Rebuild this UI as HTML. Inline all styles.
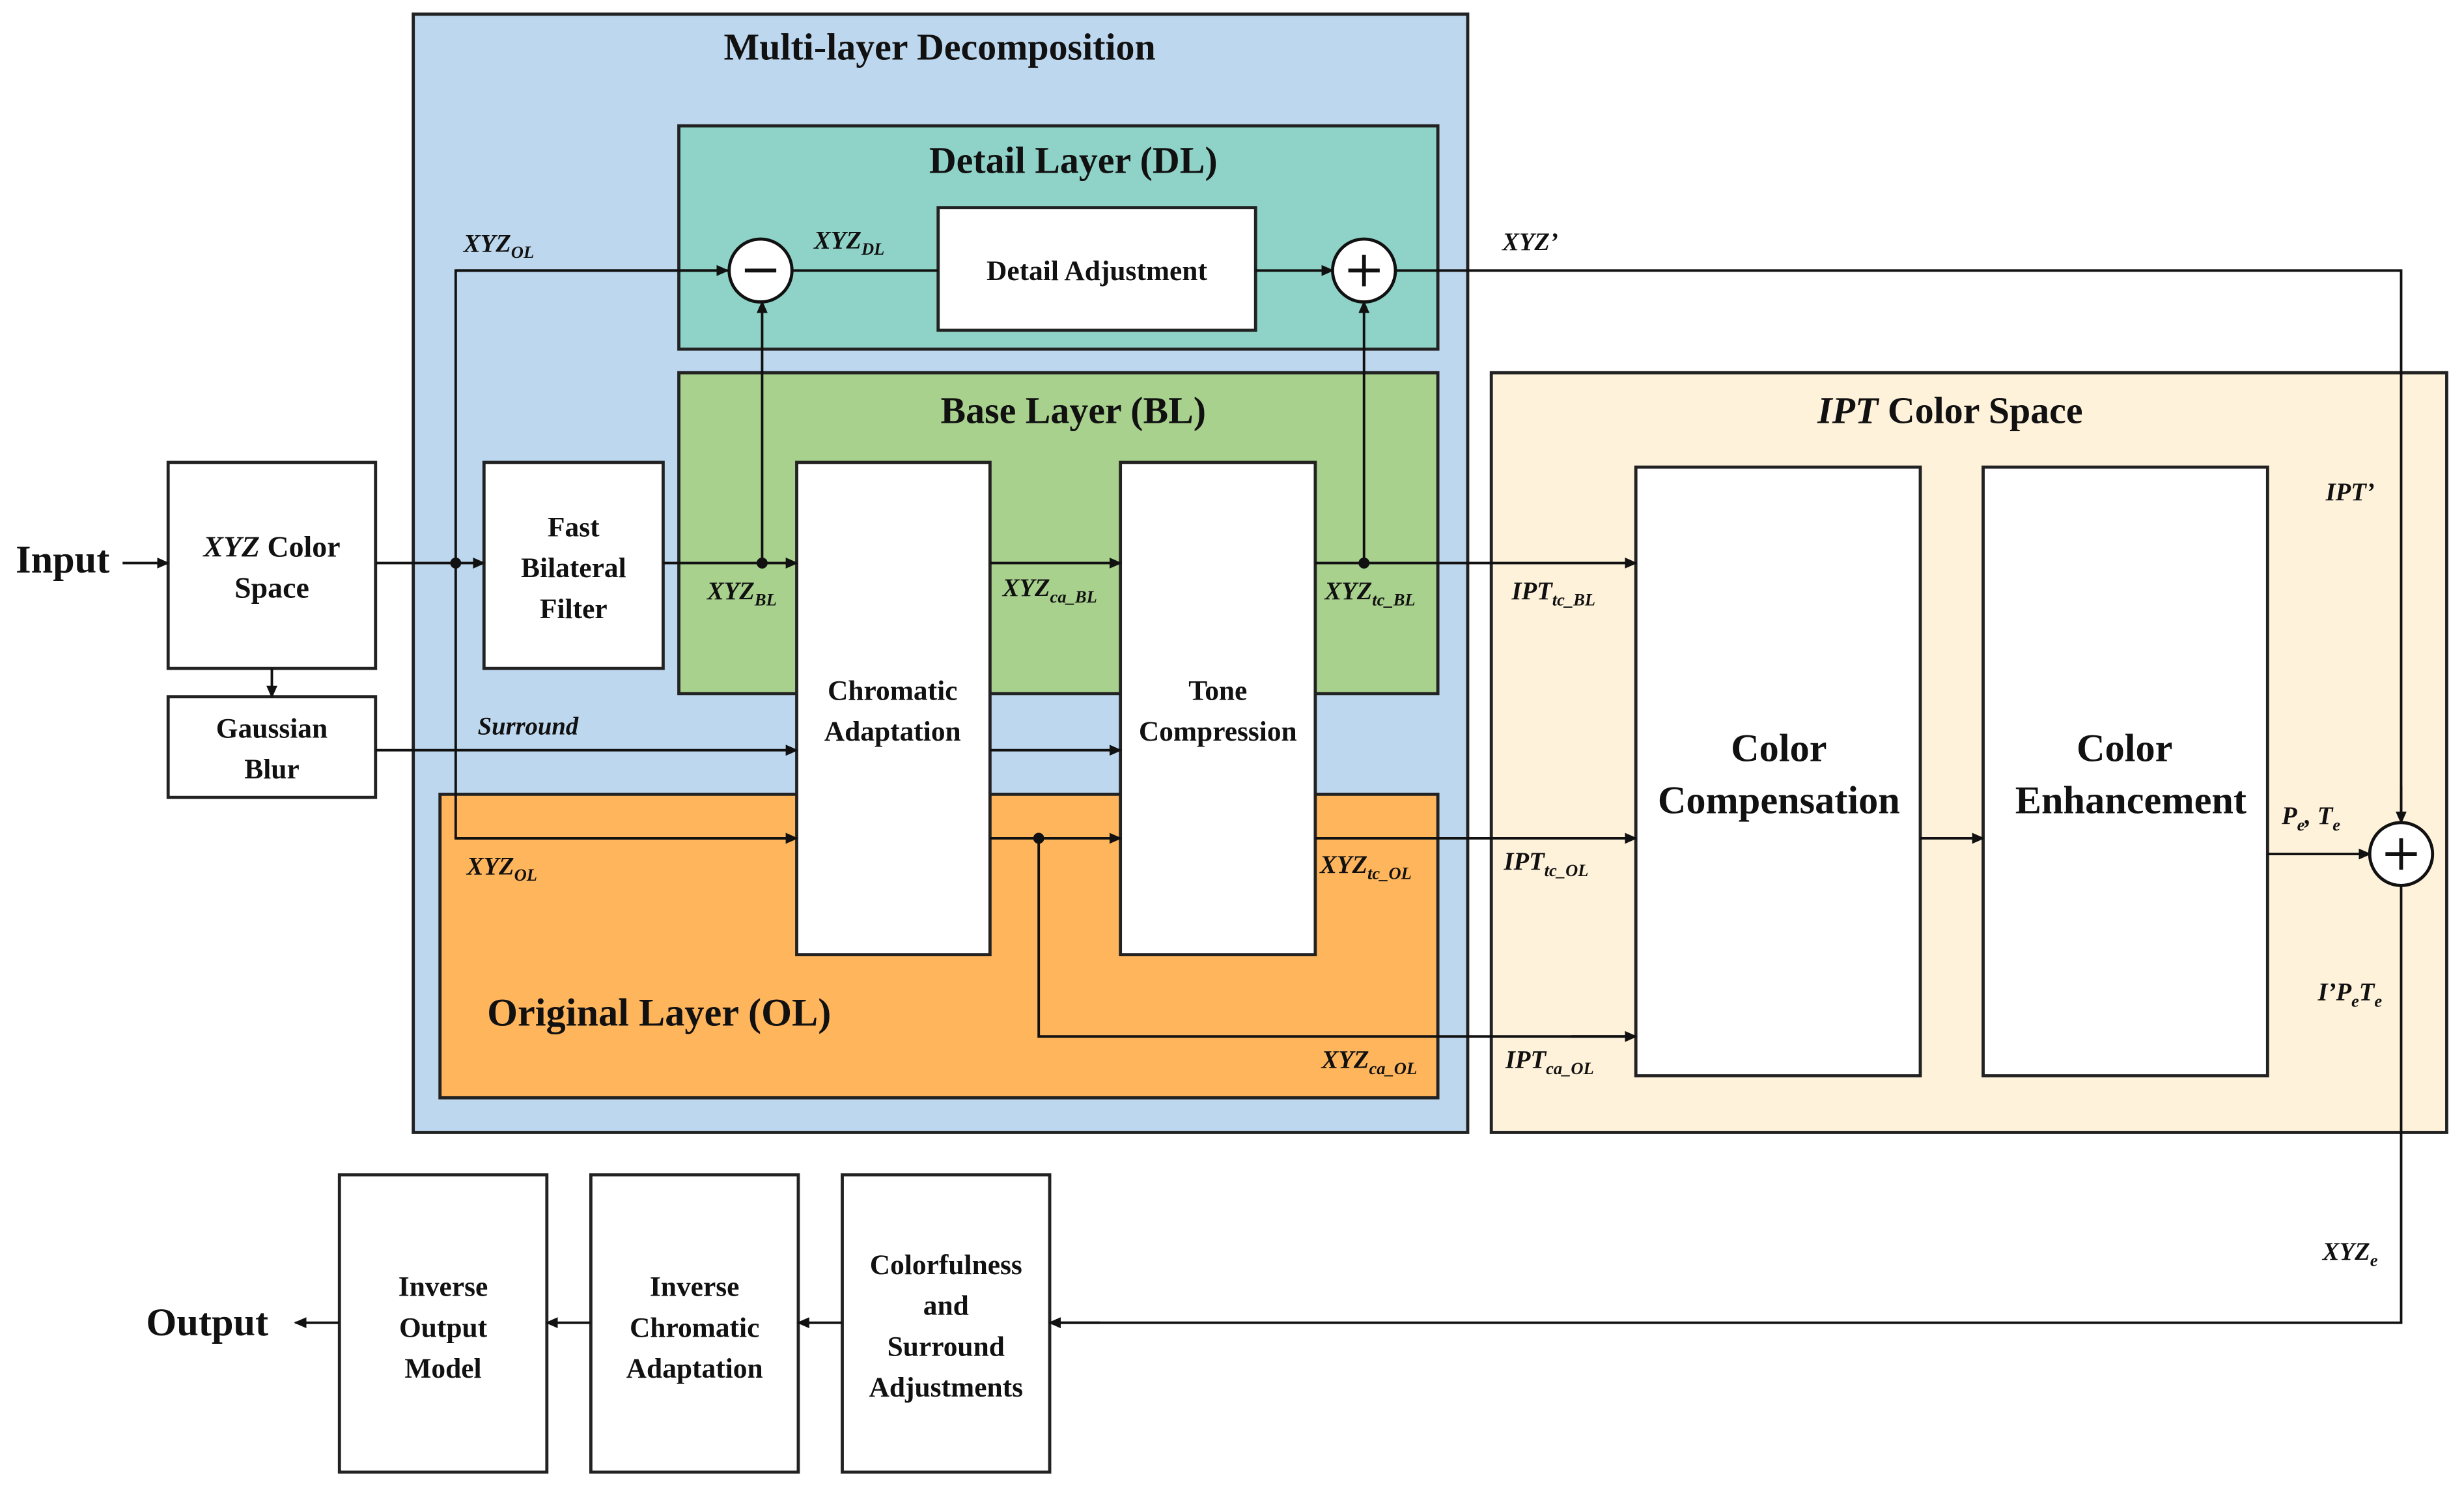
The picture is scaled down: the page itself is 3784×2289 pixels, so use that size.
<!DOCTYPE html>
<html><head><meta charset="utf-8"><style>
html,body{margin:0;padding:0;background:#fff;}
svg{display:block;}
text{font-family:"Liberation Serif",serif;font-weight:bold;fill:#111;}
.it{font-style:italic;}
</style></head><body>
<svg width="3784" height="2289" viewBox="0 0 1568 948" preserveAspectRatio="none" xmlns="http://www.w3.org/2000/svg">
<defs>
<marker id="a" markerWidth="8" markerHeight="8" refX="7" refY="4" orient="auto" markerUnits="userSpaceOnUse"><path d="M0,0.5 L8,4 L0,7.5 z" fill="#111"/></marker>
</defs>
<g stroke="#222" stroke-width="2">
<rect x="263" y="9" width="671" height="711" fill="#BDD7EE"/>
<rect x="432" y="80" width="483" height="142" fill="#8FD3C8"/>
<rect x="432" y="237" width="483" height="204" fill="#A9D18E"/>
<rect x="280" y="505" width="635" height="193" fill="#FFB55C"/>
<rect x="949" y="237" width="608" height="483" fill="#FEF2DA"/>
<rect x="597" y="132" width="202" height="78" fill="#fff"/>
<rect x="107" y="294" width="132" height="131" fill="#fff"/>
<rect x="107" y="443" width="132" height="64" fill="#fff"/>
<rect x="308" y="294" width="114" height="131" fill="#fff"/>
<rect x="507" y="294" width="123" height="313" fill="#fff"/>
<rect x="713" y="294" width="124" height="313" fill="#fff"/>
<rect x="1041" y="297" width="181" height="387" fill="#fff"/>
<rect x="1262" y="297" width="181" height="387" fill="#fff"/>
<rect x="216" y="747" width="132" height="189" fill="#fff"/>
<rect x="376" y="747" width="132" height="189" fill="#fff"/>
<rect x="536" y="747" width="132" height="189" fill="#fff"/>
</g>
<g stroke="#111" stroke-width="1.6" fill="none">
<line x1="78" y1="358" x2="107" y2="358" marker-end="url(#a)"/>
<line x1="239" y1="358" x2="308" y2="358" marker-end="url(#a)"/>
<line x1="173" y1="425" x2="173" y2="443" marker-end="url(#a)"/>
<polyline points="463,172 290,172 290,533 507,533" />
<line x1="290" y1="172" x2="463" y2="172" marker-end="url(#a)"/>
<line x1="290" y1="533" x2="507" y2="533" marker-end="url(#a)"/>
<line x1="422" y1="358" x2="507" y2="358" marker-end="url(#a)"/>
<line x1="485" y1="358" x2="485" y2="192" marker-end="url(#a)"/>
<line x1="504" y1="172" x2="597" y2="172"/>
<line x1="799" y1="172" x2="848" y2="172" marker-end="url(#a)"/>
<polyline points="888,172 1528,172 1528,523"/>
<line x1="1528" y1="500" x2="1528" y2="523" marker-end="url(#a)"/>
<line x1="630" y1="358" x2="713" y2="358" marker-end="url(#a)"/>
<line x1="837" y1="358" x2="1041" y2="358" marker-end="url(#a)"/>
<line x1="868" y1="358" x2="868" y2="192" marker-end="url(#a)"/>
<line x1="239" y1="477" x2="507" y2="477" marker-end="url(#a)"/>
<line x1="630" y1="477" x2="713" y2="477" marker-end="url(#a)"/>
<line x1="630" y1="533" x2="713" y2="533" marker-end="url(#a)"/>
<polyline points="661,533 661,659 1041,659"/>
<line x1="1000" y1="659" x2="1041" y2="659" marker-end="url(#a)"/>
<line x1="837" y1="533" x2="1041" y2="533" marker-end="url(#a)"/>
<line x1="1222" y1="533" x2="1262" y2="533" marker-end="url(#a)"/>
<line x1="1443" y1="543" x2="1508" y2="543" marker-end="url(#a)"/>
<polyline points="1528,563 1528,841 668,841"/>
<line x1="700" y1="841" x2="668" y2="841" marker-end="url(#a)"/>
<line x1="536" y1="841" x2="508" y2="841" marker-end="url(#a)"/>
<line x1="376" y1="841" x2="348" y2="841" marker-end="url(#a)"/>
<line x1="216" y1="841" x2="188" y2="841" marker-end="url(#a)"/>
</g>
<g fill="#111"><circle cx="290" cy="358" r="3.5"/><circle cx="485" cy="358" r="3.5"/><circle cx="868" cy="358" r="3.5"/><circle cx="661" cy="533" r="3.5"/></g>
<g stroke="#111" stroke-width="2" fill="#fff">
<circle cx="484" cy="172" r="20"/><circle cx="868" cy="172" r="20"/><circle cx="1528" cy="543" r="20"/>
</g>
<g stroke="#111" stroke-width="2.4">
<line x1="474" y1="172" x2="494" y2="172"/>
<line x1="858" y1="172" x2="878" y2="172"/><line x1="868" y1="162" x2="868" y2="182"/>
<line x1="1518" y1="543" x2="1538" y2="543"/><line x1="1528" y1="533" x2="1528" y2="553"/>
</g>
<g text-anchor="middle">
<text x="598" y="38" font-size="24">Multi-layer Decomposition</text>
<text x="683" y="110" font-size="24">Detail Layer (DL)</text>
<text x="683" y="269" font-size="24">Base Layer (BL)</text>
<text x="1241" y="269" font-size="24"><tspan class="it">IPT</tspan> Color Space</text>
<text x="698" y="178" font-size="18">Detail Adjustment</text>
<text x="173" y="354" font-size="19"><tspan class="it">XYZ</tspan> Color</text>
<text x="173" y="380" font-size="19">Space</text>
<text x="173" y="469" font-size="18">Gaussian</text>
<text x="173" y="495" font-size="18">Blur</text>
<text x="365" y="341" font-size="18">Fast</text>
<text x="365" y="367" font-size="18">Bilateral</text>
<text x="365" y="393" font-size="18">Filter</text>
<text x="568" y="445" font-size="18">Chromatic</text>
<text x="568" y="471" font-size="18">Adaptation</text>
<text x="775" y="445" font-size="18">Tone</text>
<text x="775" y="471" font-size="18">Compression</text>
<text x="1132" y="484" font-size="25">Color</text>
<text x="1132" y="517" font-size="25">Compensation</text>
<text x="1352" y="484" font-size="25">Color</text>
<text x="1356" y="517" font-size="25">Enhancement</text>
<text x="282" y="824" font-size="18">Inverse</text>
<text x="282" y="850" font-size="18">Output</text>
<text x="282" y="876" font-size="18">Model</text>
<text x="442" y="824" font-size="18">Inverse</text>
<text x="442" y="850" font-size="18">Chromatic</text>
<text x="442" y="876" font-size="18">Adaptation</text>
<text x="602" y="810" font-size="18">Colorfulness</text>
<text x="602" y="836" font-size="18">and</text>
<text x="602" y="862" font-size="18">Surround</text>
<text x="602" y="888" font-size="18">Adjustments</text>
</g>
<text x="10" y="364" font-size="25">Input</text>
<text x="93" y="849" font-size="25">Output</text>
<text x="310" y="652" font-size="25">Original Layer (OL)</text>
<g class="it" font-size="16">
<text class="it" x="295" y="160">XYZ<tspan font-size="11" dy="4">OL</tspan></text>
<text class="it" x="518" y="158">XYZ<tspan font-size="11" dy="4">DL</tspan></text>
<text class="it" x="956" y="159">XYZ’</text>
<text class="it" x="450" y="381">XYZ<tspan font-size="11" dy="4">BL</tspan></text>
<text class="it" x="638" y="379">XYZ<tspan font-size="11" dy="4">ca_BL</tspan></text>
<text class="it" x="843" y="381">XYZ<tspan font-size="11" dy="4">tc_BL</tspan></text>
<text class="it" x="962" y="381">IPT<tspan font-size="11" dy="4">tc_BL</tspan></text>
<text class="it" x="1480" y="318">IPT’</text>
<text class="it" x="304" y="467">Surround</text>
<text class="it" x="297" y="556">XYZ<tspan font-size="11" dy="4">OL</tspan></text>
<text class="it" x="840" y="555">XYZ<tspan font-size="11" dy="4">tc_OL</tspan></text>
<text class="it" x="957" y="553">IPT<tspan font-size="11" dy="4">tc_OL</tspan></text>
<text class="it" x="841" y="679">XYZ<tspan font-size="11" dy="4">ca_OL</tspan></text>
<text class="it" x="958" y="679">IPT<tspan font-size="11" dy="4">ca_OL</tspan></text>
<text class="it" x="1452" y="524">P<tspan font-size="11" dy="4">e</tspan><tspan dy="-4">, T</tspan><tspan font-size="11" dy="4">e</tspan></text>
<text class="it" x="1475" y="636">I’P<tspan font-size="11" dy="4">e</tspan><tspan dy="-4">T</tspan><tspan font-size="11" dy="4">e</tspan></text>
<text class="it" x="1478" y="801">XYZ<tspan font-size="11" dy="4">e</tspan></text>
</g>
</svg>
</body></html>
